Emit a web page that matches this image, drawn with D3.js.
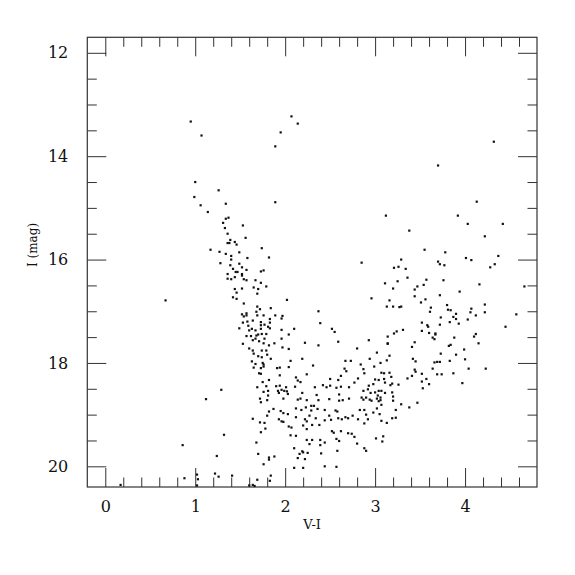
<!DOCTYPE html>
<html>
<head>
<meta charset="utf-8">
<script src="https://cdn.jsdelivr.net/npm/d3@7"></script>
<style>
  body { margin: 0; background: #fff; }
  svg text { font-family: "DejaVu Serif", "Liberation Serif", serif; fill: #111; }
</style>
</head>
<body>
<div id="chart"></div>
<script>
// colour index V-I and I magnitude (one pair per star)
var stars = [
  [0.95,13.33],[1.07,13.60],[1.00,14.50],
  [2.07,13.23],[2.14,13.37],[1.95,13.54],[1.89,13.81],
  [4.32,13.72],[3.70,14.18],
  [1.26,14.66],[0.99,14.79],[1.06,14.95],[1.34,14.92],[1.14,15.08],[1.37,15.19],[1.34,15.21],
  [1.31,15.29],[1.33,15.39],[1.36,15.50],[1.39,15.62],[1.44,15.66],[1.36,15.68],[1.38,15.68],
  [1.46,15.71],[1.17,15.81],[1.27,15.85],[1.34,15.89],[1.49,15.86],[1.40,15.93],[1.40,16.00],
  [1.28,16.07],[1.49,16.08],[1.39,16.11],[1.42,16.18],[1.45,16.24],[1.47,16.24],[1.36,16.28],
  [1.44,16.34],[1.36,16.37],[1.40,16.38],[1.44,16.57],[1.46,16.64],[1.42,16.73],[1.46,16.76],
  [0.67,16.79],[1.49,17.33],
  [1.89,14.89],[3.12,15.15],[1.53,15.34],[1.56,15.58],[1.74,15.78],[1.58,15.97],[1.82,15.96],
  [2.85,16.06],[1.52,16.15],[1.57,16.20],[1.76,16.21],[1.73,16.23],[1.52,16.28],[1.52,16.31],
  [1.54,16.38],[1.57,16.40],[1.67,16.40],[1.73,16.45],[1.79,16.52],[1.65,16.54],[1.70,16.57],
  [1.52,16.56],[1.69,16.66],[3.11,16.46],[2.96,16.75],[3.16,16.79],[2.02,16.78],[3.13,16.91],
  [1.54,16.85],[1.69,16.91],[1.72,16.96],[1.84,16.94],[1.68,17.01],[2.37,17.00],[1.52,17.06],
  [1.57,17.04],[1.54,17.10],[1.57,17.08],[1.69,17.08],[1.76,17.08],[1.89,17.08],[1.97,17.09],
  [1.96,17.14],[1.83,17.15],[1.73,17.21],[1.53,17.22],[1.58,17.20],[1.64,17.18],[1.83,17.22],
  [2.39,17.23],[1.77,17.26],[1.59,17.28],[1.81,17.30],[1.83,17.33],[1.73,17.27],[1.73,17.34],
  [1.63,17.34],[1.60,17.37],[1.67,17.37],[2.10,17.34],[1.96,17.36],[2.52,17.34],[2.55,17.40],
  [1.79,17.44],[1.74,17.44],[1.70,17.45],[1.57,17.48],[1.62,17.48],[1.68,17.47],[2.04,17.45],
  [1.96,17.53],[1.77,17.53],[1.67,17.53],[3.14,17.49],
  [4.13,14.88],[3.92,15.15],[4.03,15.31],[4.42,15.31],[3.38,15.44],[4.22,15.55],[3.55,15.81],
  [3.78,15.86],[3.29,16.00],[4.01,15.97],[4.07,16.01],[4.37,15.93],[3.70,16.04],[3.72,16.09],
  [3.77,16.11],[4.33,16.09],[3.21,16.16],[3.26,16.14],[3.34,16.18],[4.28,16.15],[3.36,16.35],
  [3.25,16.42],[3.57,16.39],[3.76,16.40],[3.47,16.52],[3.54,16.49],[4.16,16.48],[4.66,16.52],
  [3.20,16.56],[3.44,16.58],[3.72,16.69],[3.94,16.62],[3.44,16.71],[3.56,16.77],[3.51,16.83],
  [3.20,16.91],[3.27,16.92],[3.29,16.91],[3.62,16.93],[3.61,17.01],[3.80,16.88],[3.81,16.97],
  [3.84,16.98],[4.07,16.95],[4.06,17.02],[4.22,16.87],[4.22,17.02],[4.57,17.06],[3.90,17.05],
  [3.87,17.11],[3.73,17.12],[3.90,17.15],[4.12,17.08],[4.03,17.16],[3.52,17.22],[3.83,17.21],
  [3.93,17.24],[3.58,17.27],[3.59,17.30],[3.72,17.26],[4.45,17.30],[3.31,17.36],[3.24,17.39],
  [3.21,17.43],[3.52,17.38],[3.60,17.42],[3.67,17.43],[3.67,17.45],[4.12,17.44],[4.10,17.49],
  [3.64,17.51],[3.88,17.51],
  [3.66,17.54],[4.15,17.62],[3.14,17.62],[3.44,17.60],[3.41,17.69],[3.82,17.67],[3.84,17.65],
  [3.99,17.74],[3.73,17.82],[3.90,17.84],[3.16,17.86],[3.42,17.92],[3.45,17.97],[3.13,17.95],
  [4.00,17.93],[3.83,17.96],[3.06,18.00],[3.66,17.99],[3.69,17.98],[3.72,17.98],[3.64,18.11],
  [4.04,18.11],[4.23,18.11],[3.44,18.13],[3.45,18.17],[3.07,18.19],[3.10,18.20],[3.16,18.19],
  [3.52,18.21],[3.69,18.22],[3.74,18.22],[3.87,18.20],[3.18,18.27],[3.41,18.25],[3.36,18.30],
  [3.57,18.31],[3.10,18.31],[3.11,18.38],[3.17,18.43],[3.19,18.40],[3.26,18.42],[3.52,18.36],
  [3.60,18.41],[3.53,18.49],[3.97,18.39],[3.07,18.54],[3.11,18.58],[3.19,18.57],[3.20,18.65],
  [3.06,18.67],[3.06,18.72],[3.20,18.73],[3.47,18.77],[3.29,18.80],[3.07,18.81],[3.38,18.86],
  [3.23,18.91],[3.19,19.07],[3.23,19.06],[3.07,19.12],[3.13,19.16],[3.09,19.42],[3.08,19.52],
  [1.29,18.52],[1.12,18.70],[1.32,19.39],[0.86,19.59],[1.24,19.80],[0.17,20.36],[0.88,20.23],
  [1.02,20.16],[1.03,20.25],[1.02,20.37],[1.22,20.14],[1.26,20.20],[1.41,20.18],
  [1.53,17.63],[1.64,17.56],[1.71,17.58],[1.76,17.62],[1.82,17.66],[1.88,17.62],[1.97,17.70],
  [2.04,17.73],[2.22,17.61],[2.37,17.66],[2.59,17.59],[1.60,17.72],[1.64,17.76],[1.65,17.82],
  [1.74,17.76],[1.79,17.76],[1.70,17.87],[1.74,17.89],[1.80,17.84],[1.84,17.92],[2.80,17.72],
  [2.93,17.56],[3.02,17.80],[3.14,17.63],[2.19,17.92],[2.67,17.96],[2.73,17.96],[2.31,18.05],
  [1.63,17.97],[1.67,18.02],[1.75,18.00],[1.76,18.03],[1.76,18.07],[1.73,18.10],[1.65,18.09],
  [1.91,18.10],[1.94,18.09],[2.06,17.96],[2.04,18.08],[2.84,18.03],[2.66,18.11],[2.87,18.12],
  [2.94,17.92],[2.99,18.07],[1.71,18.20],[1.73,18.21],[1.94,18.24],[2.24,18.22],[2.68,18.16],
  [2.88,18.20],[2.12,18.28],[2.14,18.34],[2.17,18.37],[1.75,18.37],[1.82,18.33],[2.50,18.31],
  [2.59,18.33],[2.62,18.25],[2.81,18.30],[2.77,18.38],[2.93,18.44],[2.98,18.41],[3.00,18.32],
  [3.04,18.33],[1.69,18.47],[1.79,18.45],[1.90,18.45],[1.94,18.44],[1.96,18.52],[1.92,18.54],
  [2.01,18.47],[2.02,18.55],[1.99,18.54],[2.03,18.60],[1.93,18.58],[2.11,18.46],[2.33,18.47],
  [2.42,18.43],[2.46,18.47],[2.50,18.44],[2.57,18.48],[2.62,18.46],[2.71,18.47],[2.87,18.54],
  [2.92,18.51],[2.95,18.58],[3.00,18.57],[3.04,18.54],[3.03,18.63],[1.81,18.54],[1.76,18.56],
  [1.81,18.63],[1.72,18.69],[1.73,18.76],[1.80,18.72],[1.98,18.69],[2.19,18.58],[2.17,18.69],
  [2.14,18.71],[2.35,18.62],[2.37,18.72],[2.49,18.70],[2.60,18.61],[2.60,18.73],[2.64,18.72],
  [2.71,18.69],[2.85,18.67],[2.87,18.71],[2.90,18.67],[2.94,18.71],[2.96,18.73],[3.02,18.69],
  [3.04,18.74],[2.24,18.72],[2.29,18.83],[2.32,18.83],[2.23,18.86],[2.12,18.88],[2.18,18.91],
  [2.29,18.92],[2.36,18.89],[2.44,18.91],[2.58,18.94],[1.87,18.89],[1.82,18.94],[1.80,19.02],
  [1.95,18.93],[1.98,18.97],[2.03,18.99],[1.93,19.09],[1.96,19.13],[1.98,19.14],[1.64,19.08],
  [1.72,19.15],[1.77,19.16],[2.12,19.05],[2.22,19.09],[2.24,19.13],[2.27,19.02],[2.34,19.07],
  [2.38,19.20],[2.44,19.11],[2.49,19.02],[2.56,18.92],[2.51,19.10],[2.59,19.07],[2.63,19.09],
  [2.67,19.05],[2.70,19.07],[2.75,19.02],[2.81,19.09],[2.83,18.91],[2.88,18.91],[2.90,19.00],
  [2.92,19.09],[2.98,18.96],[3.02,18.88],[3.05,18.99],[2.88,19.17],[2.04,19.23],[2.07,19.25],
  [2.20,19.21],[2.24,19.28],[2.30,19.20],[2.52,19.32],[2.54,19.35],[2.62,19.32],[2.57,19.47],
  [2.60,19.51],[2.70,19.36],[2.74,19.37],[2.77,19.43],[2.80,19.56],[2.06,19.40],[2.12,19.41],
  [2.24,19.49],[2.30,19.49],[2.27,19.57],[2.39,19.49],[2.44,19.54],[2.39,19.59],[2.10,19.65],
  [2.19,19.71],[2.20,19.73],[2.16,19.76],[2.25,19.74],[2.40,19.75],[2.14,19.84],[2.22,19.86],
  [2.58,19.70],[2.88,19.65],[2.90,19.70],[3.01,19.46],[2.10,20.03],[2.20,20.03],[2.44,20.00],
  [2.57,20.01],[1.68,19.54],[1.73,19.34],[1.70,19.76],[1.88,19.81],[1.82,19.83],[1.82,19.87],
  [1.76,19.96],[1.78,19.27],[1.69,20.26],[1.84,20.18],[1.83,20.28],[1.60,20.37],[1.64,20.36],
  [1.66,20.38]
];

var xMajor = [0, 1, 2, 3, 4];
var xMinor = d3.range(1, 24).map(d => d / 5).filter(d => d % 1 !== 0);
var yMajor = [12, 14, 16, 18, 20];
var yMinor = [12.5, 13, 13.5, 14.5, 15, 15.5, 16.5, 17, 17.5, 18.5, 19, 19.5, 20.5].filter(d => d < 20.4);

var W = 575, H = 575;
var box = { left: 87.3, right: 537, top: 37.3, bottom: 487 };

var svg = d3.select("#chart").append("svg")
    .attr("width", W)
    .attr("height", H);

var x = d3.scaleLinear().domain([-0.2, 4.8]).range([box.left, box.right]);
var y = d3.scaleLinear().domain([11.7, 20.4]).range([box.top, box.bottom]);

// ticks on all four sides, pointing inward
function addAxis(axisFn, scale, vals, len, tr, labels) {
    var g = svg.append("g")
        .attr("transform", tr)
        .call(axisFn(scale).tickValues(vals).tickSize(-len).tickSizeOuter(0)
              .tickFormat(labels ? d3.format("d") : ""));
    g.select(".domain").remove();
    g.selectAll(".tick line").attr("stroke", "#333").attr("stroke-width", 1);
    return g;
}

var bx = addAxis(d3.axisBottom, x, xMajor, 19, `translate(0,${box.bottom})`, true);
addAxis(d3.axisBottom, x, xMinor, 9.5, `translate(0,${box.bottom})`, false);
addAxis(d3.axisTop, x, xMajor, 19, `translate(0,${box.top})`, false);
addAxis(d3.axisTop, x, xMinor, 9.5, `translate(0,${box.top})`, false);
var ly = addAxis(d3.axisLeft, y, yMajor, 19, `translate(${box.left},0)`, true);
addAxis(d3.axisLeft, y, yMinor, 9.5, `translate(${box.left},0)`, false);
addAxis(d3.axisRight, y, yMajor, 19, `translate(${box.right},0)`, false);
addAxis(d3.axisRight, y, yMinor, 9.5, `translate(${box.right},0)`, false);

bx.selectAll("text")
    .attr("y", 14)
    .attr("dy", "0.71em")
    .style("font-size", "16px")
    .style("font-family", "DejaVu Serif");
ly.selectAll("text")
    .attr("x", -19)
    .style("font-size", "16px")
    .style("font-family", "DejaVu Serif");

// frame
svg.append("rect")
    .attr("x", box.left)
    .attr("y", box.top)
    .attr("width", box.right - box.left)
    .attr("height", box.bottom - box.top)
    .attr("fill", "none")
    .attr("stroke", "#333")
    .attr("stroke-width", 1.2);

// stars
svg.append("g").selectAll("rect")
    .data(stars)
    .enter().append("rect")
    .attr("x", d => x(d[0]) - 1.1)
    .attr("y", d => y(d[1]) - 1.1)
    .attr("width", 2.2)
    .attr("height", 2.2)
    .attr("fill", "#111");

// axis titles
svg.append("text")
    .attr("x", (box.left + box.right) / 2)
    .attr("y", 529)
    .attr("text-anchor", "middle")
    .style("font-size", "13px")
    .text("V-I");

svg.append("text")
    .attr("transform", "translate(37,245) rotate(-90)")
    .attr("text-anchor", "middle")
    .style("font-size", "12px")
    .text("I (mag)");
</script>
</body>
</html>
